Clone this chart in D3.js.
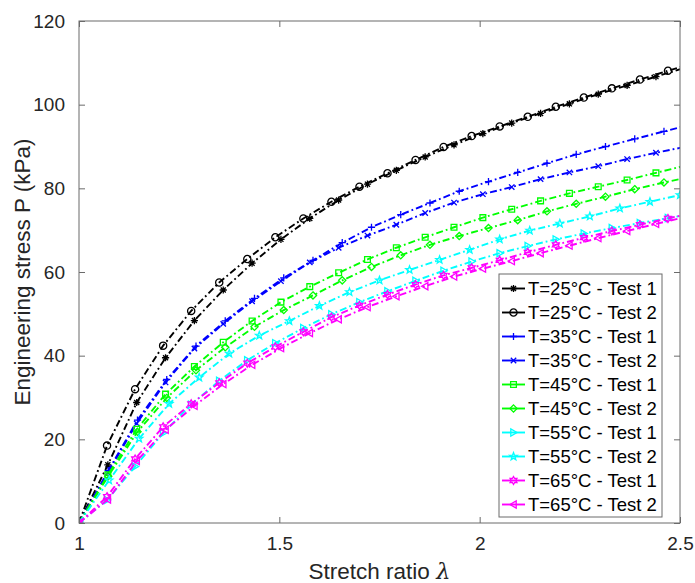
<!DOCTYPE html>
<html>
<head>
<meta charset="utf-8">
<script src="https://cdn.jsdelivr.net/npm/d3@7"></script>
<style>
  html, body { margin: 0; padding: 0; background: #fff; }
  svg { display: block; font-family: "Liberation Sans", Arial, sans-serif; }
</style>
</head>
<body>
<svg id="chart" width="695" height="583"></svg>
<script>
// Stretch ratio sample grids (each test was sampled at its own increment)
const lambdaA = [1.00,1.07,1.14,1.21,1.28,1.35,1.42,1.49,1.56,1.63,1.70,1.77,1.84,1.91,1.98,2.05,2.12,2.19,2.26,2.33,2.40,2.47,2.54];
const lambdaB = [1.000,1.072,1.144,1.216,1.288,1.360,1.432,1.504,1.576,1.648,1.720,1.792,1.864,1.936,2.008,2.080,2.152,2.224,2.296,2.368,2.440,2.512];
const lambdaC = [1.000,1.073,1.146,1.219,1.292,1.365,1.438,1.511,1.584,1.657,1.730,1.803,1.876,1.949,2.022,2.095,2.168,2.241,2.314,2.387,2.460,2.533];
const lambdaD = [1.000,1.075,1.150,1.225,1.300,1.375,1.450,1.525,1.600,1.675,1.750,1.825,1.900,1.975,2.050,2.125,2.200,2.275,2.350,2.425,2.500,2.575];

// Engineering stress P (kPa)
const t25test1 = [0,13.9,28.8,39.5,48.4,55.7,62.1,67.8,72.8,77.2,81.0,84.3,87.5,90.4,93.1,95.6,97.9,100.2,102.5,104.6,106.7,108.8];
const t25test2 = [0,18.5,32.0,42.4,50.7,57.5,63.1,68.3,72.8,76.8,80.4,83.6,86.8,89.9,92.5,94.8,97.1,99.5,101.7,103.9,106.0,108.1,110.1];
const t35test1 = [0,12.5,24.6,34.3,42.3,48.3,53.7,58.6,62.8,67.0,70.7,73.7,76.5,79.3,81.6,83.8,86.0,88.1,90.0,91.8,93.6,95.4];
const t35test2 = [0,12.0,23.8,33.6,41.7,47.6,53.0,57.8,62.3,65.8,68.7,71.3,74.1,76.6,78.6,80.3,82.2,83.8,85.3,87.0,88.5,89.9];
const t45test1 = [0,11.5,22.4,30.8,37.4,43.2,48.3,52.8,56.5,59.8,63.0,65.8,68.3,70.7,73.0,75.0,77.0,78.8,80.4,82.0,83.7,85.4];
const t45test2 = [0,11.2,21.8,29.9,36.5,42.0,46.9,50.9,54.4,58.0,61.2,64.0,66.5,68.6,70.5,72.4,74.5,76.3,78.0,79.8,81.4,82.9];
const t55test1 = [0,5.5,13.5,21.5,28.3,34.0,38.9,43.0,46.6,49.9,52.8,55.4,57.9,60.3,62.5,64.5,66.2,67.8,69.2,70.5,71.7,72.9,74.0];
const t55test2 = [0,10.2,20.2,28.5,34.8,40.5,44.8,48.3,51.9,55.2,58.0,60.5,62.9,65.3,67.8,69.9,71.6,73.3,75.2,76.8,78.4,80.0];
const t65test1 = [0,6.3,15.3,23.0,28.5,33.5,38.2,42.1,45.7,49.2,52.0,54.6,57.0,59.2,61.0,62.8,64.7,66.5,68.2,69.8,71.3,72.8,74.3];
const t65test2 = [0,5.6,14.8,22.3,28.0,33.2,37.8,41.8,45.4,48.7,51.6,54.2,56.6,58.9,60.8,62.6,64.5,66.3,68.1,69.8,71.5,73.1];

const seriesNames = ["T=25°C - Test 1","T=25°C - Test 2","T=35°C - Test 1","T=35°C - Test 2","T=45°C - Test 1",
                     "T=45°C - Test 2","T=55°C - Test 1","T=55°C - Test 2","T=65°C - Test 1","T=65°C - Test 2"];
const xTicks = [1, 1.5, 2, 2.5];
const yTicks = [0, 20, 40, 60, 80, 100, 120];

const series = [
  { name: seriesNames[0], x: lambdaB, y: t25test1, color: "#000000", marker: "asterisk" },
  { name: seriesNames[1], x: lambdaA, y: t25test2, color: "#000000", marker: "circle" },
  { name: seriesNames[2], x: lambdaC, y: t35test1, color: "#0000ff", marker: "plus" },
  { name: seriesNames[3], x: lambdaB, y: t35test2, color: "#0000ff", marker: "cross" },
  { name: seriesNames[4], x: lambdaB, y: t45test1, color: "#00ff00", marker: "square" },
  { name: seriesNames[5], x: lambdaC, y: t45test2, color: "#00ff00", marker: "diamond" },
  { name: seriesNames[6], x: lambdaA, y: t55test1, color: "#00ffff", marker: "triRight" },
  { name: seriesNames[7], x: lambdaD, y: t55test2, color: "#00ffff", marker: "pentagram" },
  { name: seriesNames[8], x: lambdaA, y: t65test1, color: "#ff00ff", marker: "hexagram" },
  { name: seriesNames[9], x: lambdaB, y: t65test2, color: "#ff00ff", marker: "triLeft" }
];

const svg = d3.select("#chart");
const margin = { left: 79, right: 15, top: 21, bottom: 60 };
const W = 695, H = 583;
const x = d3.scaleLinear().domain([1, 2.5]).range([margin.left, W - margin.right]);
const y = d3.scaleLinear().domain([0, 120]).range([H - margin.bottom, margin.top]);
const axisColor = "#6b6b6b";
const textColor = "#262626";

// Marker outlines centred on (0,0)
function markerPath(type, r) {
  const p = d3.path();
  switch (type) {
    case "circle": p.arc(0, 0, r, 0, 2 * Math.PI); break;
    case "plus": p.moveTo(-r, 0); p.lineTo(r, 0); p.moveTo(0, -r); p.lineTo(0, r); break;
    case "cross": { const a = r * 0.75; p.moveTo(-a, -a); p.lineTo(a, a); p.moveTo(-a, a); p.lineTo(a, -a); break; }
    case "asterisk": {
      const a = r * 0.7;
      p.moveTo(-r, 0); p.lineTo(r, 0); p.moveTo(0, -r); p.lineTo(0, r);
      p.moveTo(-a, -a); p.lineTo(a, a); p.moveTo(-a, a); p.lineTo(a, -a); break;
    }
    case "square": { const a = r * 0.8; p.rect(-a, -a, 2 * a, 2 * a); break; }
    case "diamond": p.moveTo(0, -r); p.lineTo(r, 0); p.lineTo(0, r); p.lineTo(-r, 0); p.closePath(); break;
    case "triRight": p.moveTo(r, 0); p.lineTo(-r * 0.75, -r); p.lineTo(-r * 0.75, r); p.closePath(); break;
    case "triLeft": p.moveTo(-r, 0); p.lineTo(r * 0.75, -r); p.lineTo(r * 0.75, r); p.closePath(); break;
    case "pentagram":
    case "hexagram": {
      const n = type === "pentagram" ? 5 : 6;
      const inner = type === "pentagram" ? 0.42 : 0.58;
      for (let i = 0; i < 2 * n; i++) {
        const ang = -Math.PI / 2 + i * Math.PI / n;
        const rr = i % 2 === 0 ? r * 1.1 : r * 1.1 * inner;
        const px = rr * Math.cos(ang), py = rr * Math.sin(ang);
        if (i === 0) p.moveTo(px, py); else p.lineTo(px, py);
      }
      p.closePath(); break;
    }
  }
  return p.toString();
}

const dash = "7,3,1.8,3";

// Clip region for the data
svg.append("defs").append("clipPath").attr("id", "plotClip")
  .append("rect")
  .attr("x", x(1)).attr("y", y(120))
  .attr("width", x(2.5) - x(1)).attr("height", y(0) - y(120));

const plot = svg.append("g").attr("clip-path", "url(#plotClip)");
const line = d3.line().x(d => x(d[0])).y(d => y(d[1]));

series.forEach(s => {
  const pts = s.x.map((v, i) => [v, s.y[i]]);
  const g = plot.append("g");
  g.append("path")
    .attr("d", line(pts))
    .attr("fill", "none")
    .attr("stroke", s.color)
    .attr("stroke-width", 1.9)
    .attr("stroke-dasharray", dash);
  g.selectAll("path.m").data(pts).enter().append("path")
    .attr("class", "m")
    .attr("d", markerPath(s.marker, 3.6))
    .attr("transform", d => `translate(${x(d[0])},${y(d[1])})`)
    .attr("fill", "none")
    .attr("stroke", s.color)
    .attr("stroke-width", 1.3);
});

// Axes box with inward ticks on all sides
const tickLen = 6;
const axes = svg.append("g");
axes.append("rect")
  .attr("x", x(1)).attr("y", y(120))
  .attr("width", x(2.5) - x(1)).attr("height", y(0) - y(120))
  .attr("fill", "none").attr("stroke", axisColor).attr("stroke-width", 1);

const xAxisB = d3.axisBottom(x).tickValues(xTicks).tickSize(-tickLen).tickPadding(14).tickFormat(d3.format("~g"));
const xAxisT = d3.axisTop(x).tickValues(xTicks).tickSize(-tickLen).tickFormat("");
const yAxisL = d3.axisLeft(y).tickValues(yTicks).tickSize(-tickLen).tickPadding(14);
const yAxisR = d3.axisRight(y).tickValues(yTicks).tickSize(-tickLen).tickFormat("");

function styleAxis(g) {
  g.select(".domain").remove();
  g.selectAll(".tick line").attr("stroke", axisColor);
  g.selectAll(".tick text").attr("fill", textColor).style("font-size", "19px")
    .style("font-family", "'Liberation Sans', Arial, sans-serif");
}
axes.append("g").attr("transform", `translate(0,${y(0)})`).call(xAxisB).call(styleAxis);
axes.append("g").attr("transform", `translate(0,${y(120)})`).call(xAxisT).call(styleAxis);
axes.append("g").attr("transform", `translate(${x(1)},0)`).call(yAxisL).call(styleAxis);
axes.append("g").attr("transform", `translate(${x(2.5)},0)`).call(yAxisR).call(styleAxis);

// Axis titles
svg.append("text")
  .attr("x", (x(1) + x(2.5)) / 2).attr("y", 579)
  .attr("text-anchor", "middle").attr("fill", textColor)
  .style("font-size", "22.5px")
  .text("Stretch ratio ")
  .append("tspan").style("font-family", "'DejaVu Serif', serif").style("font-style", "italic").text("λ");

svg.append("text")
  .attr("transform", `translate(30,${(y(0) + y(120)) / 2}) rotate(-90)`)
  .attr("text-anchor", "middle").attr("fill", textColor)
  .style("font-size", "22.5px")
  .text("Engineering stress P (kPa)");

// Legend
const leg = svg.append("g");
const legX = 499, legY = 274, legW = 163, legH = 243, rowH = 24;
leg.append("rect").attr("x", legX).attr("y", legY).attr("width", legW).attr("height", legH)
  .attr("fill", "#fff").attr("stroke", axisColor).attr("stroke-width", 1);
series.forEach((s, i) => {
  const cy = legY + 14.5 + i * rowH;
  leg.append("line").attr("x1", legX + 3).attr("x2", legX + 26).attr("y1", cy).attr("y2", cy)
    .attr("stroke", s.color).attr("stroke-width", 1.9);
  leg.append("path").attr("d", markerPath(s.marker, 3.6))
    .attr("transform", `translate(${legX + 14.5},${cy})`)
    .attr("fill", "none").attr("stroke", s.color).attr("stroke-width", 1.3);
  leg.append("text").attr("x", legX + 29).attr("y", cy).attr("dy", "0.35em")
    .attr("fill", "#000").style("font-size", "18.5px").text(s.name);
});
</script>
</body>
</html>
